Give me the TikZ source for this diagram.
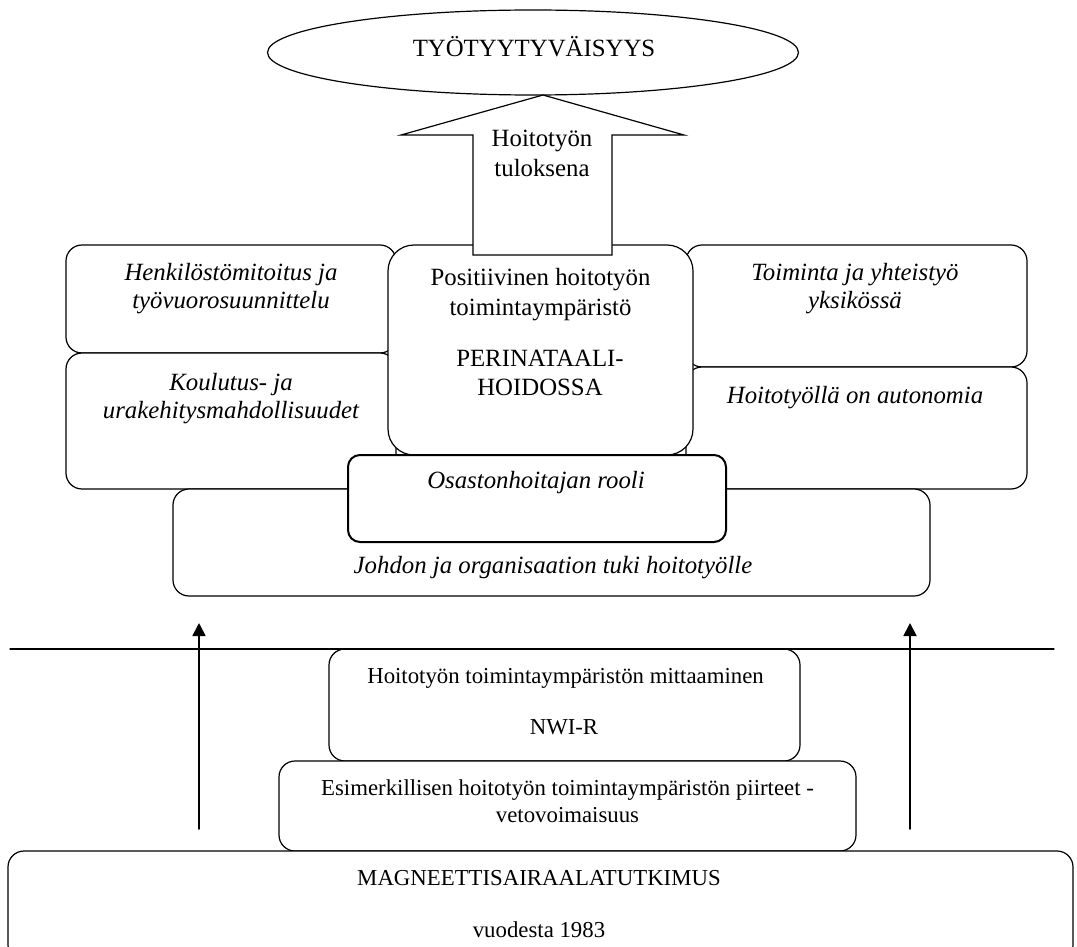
\documentclass[tikz,border=0pt]{standalone}
\usepackage{fontspec}
\setmainfont{Liberation Serif}
\usetikzlibrary{shapes.geometric,arrows.meta}

\begin{document}
\begin{tikzpicture}[x=0.5pt,y=-0.5pt,line cap=round,
  box/.style={draw,line width=0.6pt,fill=white,rounded corners=8pt,inner sep=0pt},
  bigtxt/.style={font=\fontsize{12.4}{14}\selectfont,align=center,inner sep=0pt},
  smalltxt/.style={font=\fontsize{11.4}{13.5}\selectfont,align=center,inner sep=0pt}]
\path[use as bounding box] (0,0) rectangle (1077,947);
\clip (0,0) rectangle (1077,947);
% tavoite
\node[draw,ellipse,line width=0.6pt,inner sep=0pt,minimum width=265.5pt,minimum height=42.5pt] (goal) at (533,52.5) {};
\node[bigtxt] (goaltxt) at (534,47) {TYÖTYYTYVÄISYYS};
% ylarivi
\node[box,minimum width=165pt,minimum height=54pt] (staff) at (231,299) {};
\node[box,minimum width=170.5pt,minimum height=61pt] (unit) at (856.5,306) {};
\node[box,minimum width=165pt,minimum height=68pt] (edu) at (231,421) {};
\node[box,minimum width=170.5pt,minimum height=61pt] (auto) at (856.5,428) {};
\node[box,minimum width=378.5pt,minimum height=53.5pt] (mgmt) at (551.5,542.5) {};
\node[box,rounded corners=13pt,minimum width=152.5pt,minimum height=105pt] (env) at (540.5,350) {};
\draw[line width=0.6pt,fill=white] (473,255) -- (473,135) -- (401,135) -- (543,95)
  -- (684,135) -- (612,135) -- (612,255) -- cycle;
\node[box,line width=1pt,rounded corners=6pt,minimum width=189pt,minimum height=43.5pt] (head) at (537,498.5) {};
\node[bigtxt,font=\fontsize{12.4}{15}\selectfont] (resulttxt) at (542,153) {Hoitotyön\\tuloksena};
\node[bigtxt,font=\fontsize{12.4}{14}\selectfont\itshape] (stafftxt) at (231,289) {Henkilöstömitoitus ja\\työvuorosuunnittelu};
\node[bigtxt,font=\fontsize{12.4}{14}\selectfont\itshape] (unittxt) at (855,289) {Toiminta ja yhteistyö\\yksikössä};
\node[bigtxt,font=\fontsize{12.4}{14}\selectfont\itshape] (edutxt) at (231,399) {Koulutus- ja\\urakehitysmahdollisuudet};
\node[bigtxt,font=\fontsize{12.4}{14}\selectfont\itshape] (autotxt) at (855,398) {Hoitotyöllä on autonomia};
\node[bigtxt,font=\fontsize{12.4}{15}\selectfont] (envtxt) at (540.5,295) {Positiivinen hoitotyön\\toimintaympäristö};
\node[bigtxt,font=\fontsize{12.4}{14.5}\selectfont] (perintxt) at (540,372.5) {PERINATAALI-\\HOIDOSSA};
\node[bigtxt,font=\fontsize{12.4}{14}\selectfont\itshape] (headtxt) at (536,483) {Osastonhoitajan rooli};
\node[bigtxt,font=\fontsize{12.4}{14}\selectfont\itshape] (mgmttxt) at (553,568) {Johdon ja organisaation tuki hoitotyölle};
% alaosa
\node[box,minimum width=235.5pt,minimum height=56pt] (nwi) at (564.5,705) {};
\node[box,minimum width=288.5pt,minimum height=45pt] (traits) at (567.5,806) {};
\node[box,minimum width=532.5pt,minimum height=55pt] (magnet) at (540.5,906) {};
\node[smalltxt] (nwitxt) at (565.5,678) {Hoitotyön toimintaympäristön mittaaminen};
\node[smalltxt] (nwirtxt) at (564,727) {NWI-R};
\node[smalltxt] (traitstxt) at (567.5,801.5) {Esimerkillisen hoitotyön toimintaympäristön piirteet -\\vetovoimaisuus};
\node[smalltxt] (magnettxt) at (539,878) {MAGNEETTISAIRAALATUTKIMUS};
\node[smalltxt] (yeartxt) at (539,930) {vuodesta 1983};
% raja ja nuolet
\coordinate (rulew) at (10,649);
\coordinate (rulee) at (1054,649);
\draw[line width=0.6pt] (rulew) -- (rulee);
\coordinate (leftfoot) at (199,829);
\coordinate (lefttip) at (199,623);
\coordinate (rightfoot) at (910,829);
\coordinate (righttip) at (910,623);
\draw[line width=0.9pt,-{Triangle[width=6.5pt,length=6.5pt]}] (leftfoot) -- (lefttip);
\draw[line width=0.9pt,-{Triangle[width=6.5pt,length=6.5pt]}] (rightfoot) -- (righttip);
\end{tikzpicture}
\end{document}
